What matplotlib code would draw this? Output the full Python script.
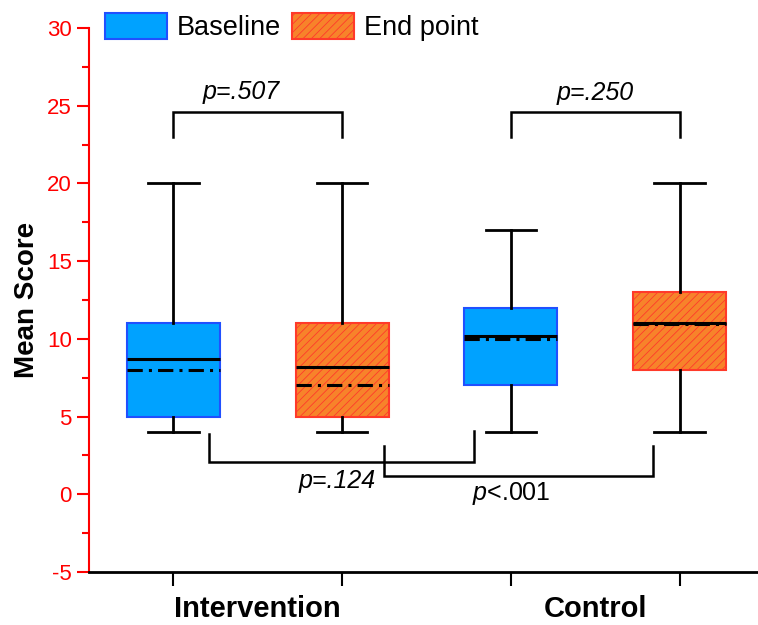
import matplotlib.pyplot as plt
from matplotlib.patches import Patch

plt.rcParams['font.family'] = ['Liberation Sans', 'DejaVu Sans']
plt.rcParams['mathtext.fontset'] = 'custom'
plt.rcParams['mathtext.it'] = 'Liberation Sans:italic'
plt.rcParams['mathtext.rm'] = 'Liberation Sans'
plt.rcParams['hatch.linewidth'] = 0.6
plt.rcParams['axes.unicode_minus'] = False

# box statistics
positions = [1, 2, 3, 4]
groups = ["Intervention", "Control"]
whislo = [4, 4, 4, 4]
q1 = [5, 5, 7, 8]
med = [8.7, 8.2, 10.2, 11.0]
mean = [8.0, 7.0, 10.0, 10.93]
q3 = [11, 11, 12, 13]
whishi = [20, 20, 17, 20]

blue = "#00a2ff"
blue_edge = "#2050ff"
orange = "#f7832a"
orange_edge = "#ff3a2a"

fig = plt.figure(figsize=(7.58, 6.25), dpi=100)
ax = fig.add_axes([89 / 758, 53 / 625, 675 / 758, 544 / 625])

stats = []
for i in range(4):
    stats.append(dict(whislo=whislo[i], q1=q1[i], med=med[i], mean=mean[i],
                      q3=q3[i], whishi=whishi[i], fliers=[]))

bp = ax.bxp(stats, positions=positions, widths=0.55, patch_artist=True,
            showmeans=True, meanline=True,
            medianprops=dict(color="black", lw=2.2),
            meanprops=dict(color="black", lw=2.2, ls=(0, (5, 2, 1, 2))),
            whiskerprops=dict(color="black", lw=2),
            capprops=dict(color="black", lw=2), capwidths=0.3)
for i, box in enumerate(bp["boxes"]):
    if i % 2 == 0:
        box.set_facecolor(blue)
        box.set_edgecolor(blue_edge)
    else:
        box.set_facecolor(orange)
        box.set_edgecolor(orange_edge)
        box.set_hatch("////")
    box.set_linewidth(1.5)
for m in bp["means"]:
    m.set_zorder(5)

# brackets
def bracket(x1, x2, y, yl1, yl2):
    ax.plot([x1, x1, x2, x2], [yl1, y, y, yl2], color="black", lw=1.8,
            solid_joinstyle="miter", clip_on=False)

bracket(1, 2, 24.6, 23.0, 23.0)
bracket(3, 4, 24.6, 23.0, 23.0)
bracket(1.21, 2.78, 2.1, 3.9, 4.1)
bracket(2.25, 3.84, 1.2, 3.1, 3.1)

tfs = 18
ax.text(1.4, 25.9, "p=.507", style="italic", ha="center", va="center", fontsize=tfs)
ax.text(3.5, 25.8, "p=.250", style="italic", ha="center", va="center", fontsize=tfs)
ax.text(1.97, 0.85, "p=.124", style="italic", ha="center", va="center", fontsize=tfs)
ax.text(3.0, 0.05, r"$\it{p}$<.001", ha="center", va="center", fontsize=tfs)

ax.set_xlim(0.5, 4.5)
ax.set_ylim(-5, 30)
ax.set_yticks(range(-5, 31, 5))
ax.set_yticks([-2.5 + 5 * k for k in range(7)], minor=True)
ax.set_xticks(positions)
ax.set_xticklabels([])
ax.tick_params(axis="x", direction="out", length=10, width=1.5, color="black")
ax.tick_params(axis="y", which="major", direction="out", length=9, width=1.5,
               colors="red", labelsize=16)
ax.tick_params(axis="y", which="minor", direction="out", length=5, width=1.5,
               colors="red")

for g, x in zip(groups, [1.5, 3.5]):
    ax.text(x, -7.4, g, ha="center", va="center", fontsize=21, fontweight="bold")

ax.set_ylabel("Mean Score", fontsize=20, fontweight="bold", labelpad=5)

for s in ["top", "right"]:
    ax.spines[s].set_visible(False)
ax.spines["left"].set_color("red")
ax.spines["left"].set_linewidth(1.5)
ax.spines["bottom"].set_color("black")
ax.spines["bottom"].set_linewidth(2)

handles = [Patch(facecolor=blue, edgecolor=blue_edge, lw=1.5, label="Baseline"),
           Patch(facecolor=orange, edgecolor=orange_edge, lw=1.5, hatch="////",
                 label="End point")]
fig.legend(handles=handles, loc="upper left", bbox_to_anchor=(105 / 758, 1 - 13 / 625),
           ncol=2, frameon=False, fontsize=19.5, handlelength=2.3,
           handleheight=1.1, columnspacing=0.4, handletextpad=0.35,
           borderpad=0, borderaxespad=0)

fig.savefig("out.png", dpi=100)
